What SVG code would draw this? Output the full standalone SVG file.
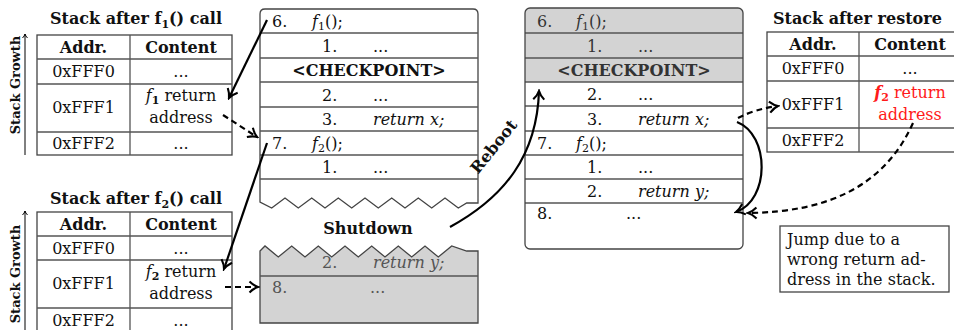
<svg xmlns="http://www.w3.org/2000/svg" width="954" height="330" viewBox="0 0 954 330">
<defs>
<style>
text{font-family:"DejaVu Serif","Liberation Serif",serif;font-size:16px;fill:#111}
.b{font-weight:bold}
.i{font-style:italic}
.c{text-anchor:middle}
.t{font-size:16px;font-weight:bold}
.cell{fill:#fff;stroke:#444;stroke-width:1.3}
.ln{stroke:#555;stroke-width:1.3;fill:none}
.arr{stroke:#000;stroke-width:2.2;fill:none;marker-end:url(#ah)}
.dash{stroke:#000;stroke-width:2.2;fill:none;stroke-dasharray:6 4;marker-end:url(#ah)}
.thin{stroke:#000;stroke-width:1;fill:none;marker-end:url(#ahs)}
.gray{fill:#d3d3d3}
.red{fill:#ff1a1a}
.gt{fill:#555}
.gd{fill:#333}
</style>
<marker id="ah" viewBox="-11 -7 13 14" refX="0" refY="0" markerWidth="13" markerHeight="14" markerUnits="userSpaceOnUse" orient="auto">
<path d="M-8.5,-5.5 Q-4,-1.2 0,0 Q-4,1.2 -8.5,5.5" fill="none" stroke="#000" stroke-width="2.1" stroke-dasharray="none"/>
</marker>
<marker id="ahs" viewBox="-6 -4 7 8" refX="0" refY="0" markerWidth="7" markerHeight="8" markerUnits="userSpaceOnUse" orient="auto">
<path d="M-4,-2.5 Q-2,-0.5 0,0 Q-2,0.5 -4,2.5" fill="none" stroke="#000" stroke-width="1"/>
</marker>
</defs>
<rect width="954" height="330" fill="#fff"/>

<!-- Stack after f1 -->
<g id="stack1">
<text class="t c" x="136" y="24">Stack after f<tspan font-size="11" dy="4">1</tspan><tspan dy="-4">() call</tspan></text>
<rect class="cell" x="37" y="35" width="195" height="120"/>
<path class="ln" d="M37,59H232M37,84H232M37,132H232M130,35V155"/>
<text class="b c" x="83.5" y="53">Addr.</text>
<text class="b c" x="181" y="53">Content</text>
<text class="c" x="83.5" y="77">0xFFF0</text>
<text class="c" x="181" y="77">...</text>
<text class="c" x="83.5" y="113">0xFFF1</text>
<text class="c" x="181" y="101"><tspan class="i">f</tspan><tspan class="b" font-size="11" dy="3">1</tspan><tspan dy="-3"> return</tspan></text>
<text class="c" x="181" y="123">address</text>
<text class="c" x="83.5" y="149">0xFFF2</text>
<text class="c" x="181" y="149">...</text>
<path class="thin" d="M25,155V34"/>
<text class="b c" style="font-size:13px" transform="translate(20,85) rotate(-90)">Stack Growth</text>
</g>

<!-- Stack after f2 -->
<g id="stack2">
<text class="t c" x="136" y="204">Stack after f<tspan font-size="11" dy="4">2</tspan><tspan dy="-4">() call</tspan></text>
<rect class="cell" x="37" y="212" width="195" height="125"/>
<path class="ln" d="M37,236H232M37,260H232M37,308H232M130,212V337"/>
<text class="b c" x="83.5" y="230">Addr.</text>
<text class="b c" x="181" y="230">Content</text>
<text class="c" x="83.5" y="254">0xFFF0</text>
<text class="c" x="181" y="254">...</text>
<text class="c" x="83.5" y="289">0xFFF1</text>
<text class="c" x="181" y="277"><tspan class="i">f</tspan><tspan class="b" font-size="11" dy="3">2</tspan><tspan dy="-3"> return</tspan></text>
<text class="c" x="181" y="299">address</text>
<text class="c" x="83.5" y="326">0xFFF2</text>
<text class="c" x="181" y="326">...</text>
<path class="thin" d="M25,332V211"/>
<text class="b c" style="font-size:13px" transform="translate(20,274) rotate(-90)">Stack Growth</text>
</g>

<!-- Middle code before shutdown -->
<g id="code1">
<path d="M260,202V14Q260,9 265,9H473Q478,9 478,14V203H466.7L458.3,208L445,198L431.7,208L418.3,198L405,208L391.7,198L378.3,208L365,198L351.7,208L338.3,198L325,208L311.7,198L298.3,208L285,198L271.7,208Z" fill="#fff" stroke="#444" stroke-width="1.3"/>
<path class="ln" d="M260,33H478M260,58H478M260,82H478M260,107H478M260,131H478M260,155H478M260,179H478"/>
<text x="272" y="27">6.</text>
<text x="312" y="27"><tspan class="i">f</tspan><tspan font-size="11" dy="3">1</tspan><tspan dy="-3">();</tspan></text>
<text x="322" y="52">1.</text><text x="373" y="52">...</text>
<text class="b c" x="369" y="76">&lt;CHECKPOINT&gt;</text>
<text x="322" y="101">2.</text><text x="373" y="101">...</text>
<text x="322" y="125">3.</text><text class="i" x="373" y="125">return x;</text>
<text x="272" y="149">7.</text>
<text x="312" y="149"><tspan class="i">f</tspan><tspan font-size="11" dy="3">2</tspan><tspan dy="-3">();</tspan></text>
<text x="322" y="173">1.</text><text x="373" y="173">...</text>
</g>

<text id="shutdown" class="b c" x="368" y="234">Shutdown</text>

<!-- Lost part after shutdown -->
<g id="code2">
<path d="M260,251L265,246L278.3,257L291.7,246L305,257L318.3,246L331.7,257L345,246L358.3,257L371.7,246L385,257L398.3,246L411.7,257L425,246L438.3,257L451.7,246L466.7,251H478V323H260Z" fill="#d3d3d3" stroke="#444" stroke-width="1.3"/>
<path class="ln" d="M260,276H478"/>
<text class="gt" x="322" y="268">2.</text><text class="gt i" x="373" y="268">return y;</text>
<text class="gt" x="272" y="293">8.</text><text class="gt" x="370" y="293">...</text>
</g>

<!-- Right code after reboot -->
<g id="code3">
<path class="gray" d="M525,82V13Q525,8 530,8H738Q743,8 743,13V82Z"/>
<path class="ln" d="M525,33H743M525,58H743M525,82H743M525,106H743M525,131H743M525,155H743M525,179H743M525,203H743"/>
<rect x="525" y="8" width="218" height="241" rx="5" fill="none" stroke="#444" stroke-width="1.3"/>
<text class="gd" x="537" y="27">6.</text>
<text class="gd" x="576" y="27"><tspan class="i">f</tspan><tspan font-size="11" dy="3">1</tspan><tspan dy="-3">();</tspan></text>
<text class="gd" x="587" y="52">1.</text><text class="gd" x="638" y="52">...</text>
<text class="gd b c" x="634" y="76">&lt;CHECKPOINT&gt;</text>
<text x="587" y="100">2.</text><text x="638" y="100">...</text>
<text x="587" y="125">3.</text><text class="i" x="638" y="125">return x;</text>
<text x="537" y="149">7.</text>
<text x="576" y="149"><tspan class="i">f</tspan><tspan font-size="11" dy="3">2</tspan><tspan dy="-3">();</tspan></text>
<text x="587" y="173">1.</text><text x="638" y="173">...</text>
<text x="587" y="197">2.</text><text class="i" x="638" y="197">return y;</text>
<text x="537" y="219">8.</text><text x="626" y="219">...</text>
</g>

<!-- Stack after restore -->
<g id="stack3">
<text class="t" x="773" y="24">Stack after restore</text>
<rect class="cell" x="767" y="32" width="195" height="120"/>
<path class="ln" d="M767,56H962M767,81H962M767,128H962M859,32V152"/>
<text class="b c" x="813" y="50">Addr.</text>
<text class="b c" x="910" y="50">Content</text>
<text class="c" x="813" y="74">0xFFF0</text>
<text class="c" x="910" y="74">...</text>
<text class="c" x="813" y="110">0xFFF1</text>
<text class="c red" x="910" y="98"><tspan class="i b">f</tspan><tspan class="b" font-size="11" dy="3">2</tspan><tspan dy="-3"> return</tspan></text>
<text class="c red" x="910" y="120">address</text>
<text class="c" x="813" y="146">0xFFF2</text>
</g>

<!-- Note -->
<g id="note">
<rect x="780" y="226" width="169" height="66" fill="#fff" stroke="#444" stroke-width="1.3"/>
<text x="787" y="245">Jump due to a</text>
<text x="787" y="265">wrong return ad-</text>
<text x="787" y="285">dress in the stack.</text>
</g>

<!-- Connectors -->
<g id="connectors">
<path class="arr" d="M267,20L229,98"/>
<path class="dash" d="M223,115L257,137"/>
<path class="arr" d="M267,143L224,269"/>
<path class="dash" d="M225,287L258,287"/>
<path class="arr" d="M450,227C505,197 537,155 539,91"/>
<text class="b c" transform="translate(498,150) rotate(-51)">Reboot</text>
<path class="dash" d="M738,118Q755,109 778,106"/>
<path class="arr" d="M737,122C770,135 770,200 736,212"/>
<path class="dash" d="M913,123C885,185 830,212 748,213"/>
</g>
</svg>
